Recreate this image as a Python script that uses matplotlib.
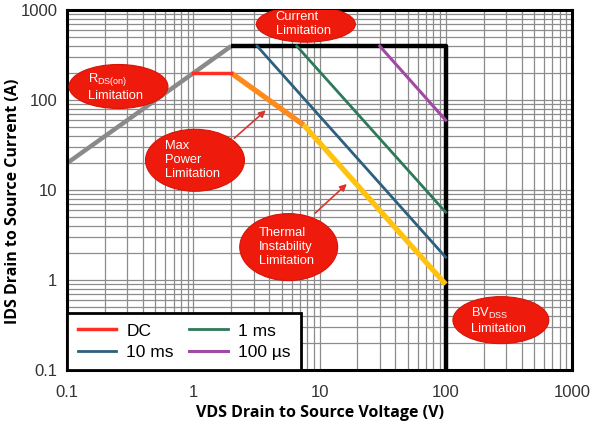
import matplotlib.pyplot as plt
from matplotlib.patches import Ellipse

# 数据
rds_v = [0.1, 2]
rds_i = [20, 400]
cur_v = [2, 100, 100]
cur_i = [400, 400, 0.1]
dc_v = [1, 2]
dc_i = [200, 200]
pwr_v = [2, 7.5]
pwr_i = [200, 53]
thermal_v = [7.5, 100]
thermal_i = [53, 0.9]
ms10_v = [3.2, 100]
ms10_i = [400, 1.8]
ms1_v = [6.6, 100]
ms1_i = [400, 5.7]
us100_v = [30, 100]
us100_i = [400, 60]

ticks = [0.1, 1, 10, 100, 1000]
tick_labels = ['0.1', '1', '10', '100', '1000']

# 红色椭圆标注: (文字, 中心V, 中心I, 宽px, 高px)
bubbles = [
    ('Current\nLimitation', 7.8, 700, 99, 36),
    ('R$_{\\mathregular{DS(on)}}$\nLimitation', 0.255, 142, 99, 44),
    ('Max\nPower\nLimitation', 1.03, 21.5, 99, 62),
    ('Thermal\nInstability\nLimitation', 5.7, 2.33, 98, 67),
    ('BV$_{\\mathregular{DSS}}$\nLimitation', 274, 0.36, 96, 47),
]
arrows = [((2.03, 36), (3.9, 81)), ((8.9, 5.3), (17.1, 12.3))]

plt.rcParams['font.family'] = ['Liberation Sans', 'DejaVu Sans']
plt.rcParams['mathtext.fontset'] = 'custom'
plt.rcParams['mathtext.rm'] = 'Liberation Sans'

fig = plt.figure(figsize=(6, 4.25), dpi=100)
ax = fig.add_axes([0.112, 0.129, 0.841, 0.847])
ax.set_xscale('log')
ax.set_yscale('log')
ax.set_xlim(0.1, 1000)
ax.set_ylim(0.1, 1000)

ax.grid(True, which='both', color='#8c8c8c', lw=0.9)
ax.set_axisbelow(True)

ax.plot(rds_v, rds_i, color='#8a8a8a', lw=3.2, solid_capstyle='butt')
ax.plot(cur_v, cur_i, color='black', lw=3.2, solid_capstyle='butt')
ax.plot(ms10_v, ms10_i, color='#2d5f7f', lw=2, label='10 ms')
ax.plot(ms1_v, ms1_i, color='#2e7a58', lw=2, label='1 ms')
ax.plot(us100_v, us100_i, color='#a04aa6', lw=2.2, label='100 µs')
ax.plot(pwr_v, pwr_i, color='#ff8a1c', lw=3.8, solid_capstyle='butt')
ax.plot(thermal_v, thermal_i, color='#ffc20e', lw=3.8, solid_capstyle='butt')
ax.plot(dc_v, dc_i, color='#ff2f24', lw=2.5, label='DC')

for s in ax.spines.values():
    s.set_linewidth(2.2)
    s.set_color('black')

ax.set_xticks(ticks)
ax.set_xticklabels(tick_labels)
ax.set_yticks(ticks)
ax.set_yticklabels(tick_labels)
ax.tick_params(which='both', length=0, labelsize=12, colors='#333333')
ax.tick_params(axis='x', pad=11)
ax.tick_params(axis='y', pad=7)

ax.set_xlabel('VDS Drain to Source Voltage (V)', fontsize=11.5, fontweight='bold',
              family='Open Sans', labelpad=3)
ax.set_ylabel('IDS Drain to Source Current (A)', fontsize=11.5, fontweight='bold',
              family='Open Sans', labelpad=1)
ax.yaxis.set_label_coords(-0.092, 0.47)

# 椭圆
w_px, h_px = 505.0, 360.0
to_ax = ax.transData + ax.transAxes.inverted()
for txt, v, i, w, h in bubbles:
    cx, cy = to_ax.transform((v, i))
    e = Ellipse((cx, cy), w / w_px, h / h_px, transform=ax.transAxes,
                fc='#ee1a0c', ec='#d41508', lw=0.8, zorder=5)
    ax.add_patch(e)
    ax.text(cx - 0.005, cy, txt, transform=ax.transAxes, ha='center', va='center',
            multialignment='left', color='white', fontsize=9.3,
            linespacing=1.2, zorder=6)

for (x0, y0), (x1, y1) in arrows:
    ax.annotate('', xy=(x1, y1), xytext=(x0, y0),
                arrowprops=dict(arrowstyle='-|>', color='#d9352b', lw=1.2,
                                mutation_scale=10), zorder=6)

h, l = ax.get_legend_handles_labels()
order = [3, 0, 1, 2]
leg = ax.legend([h[k] for k in order], [l[k] for k in order], ncol=2,
                loc='lower left', borderaxespad=0, fontsize=12.5,
                handlelength=2.2, handletextpad=0.6, columnspacing=0.9,
                labelspacing=0.35, borderpad=0.6, fancybox=False,
                framealpha=1, edgecolor='black')
leg.get_frame().set_linewidth(2)
leg.set_zorder(7)

fig.savefig('out.png', dpi=100)
